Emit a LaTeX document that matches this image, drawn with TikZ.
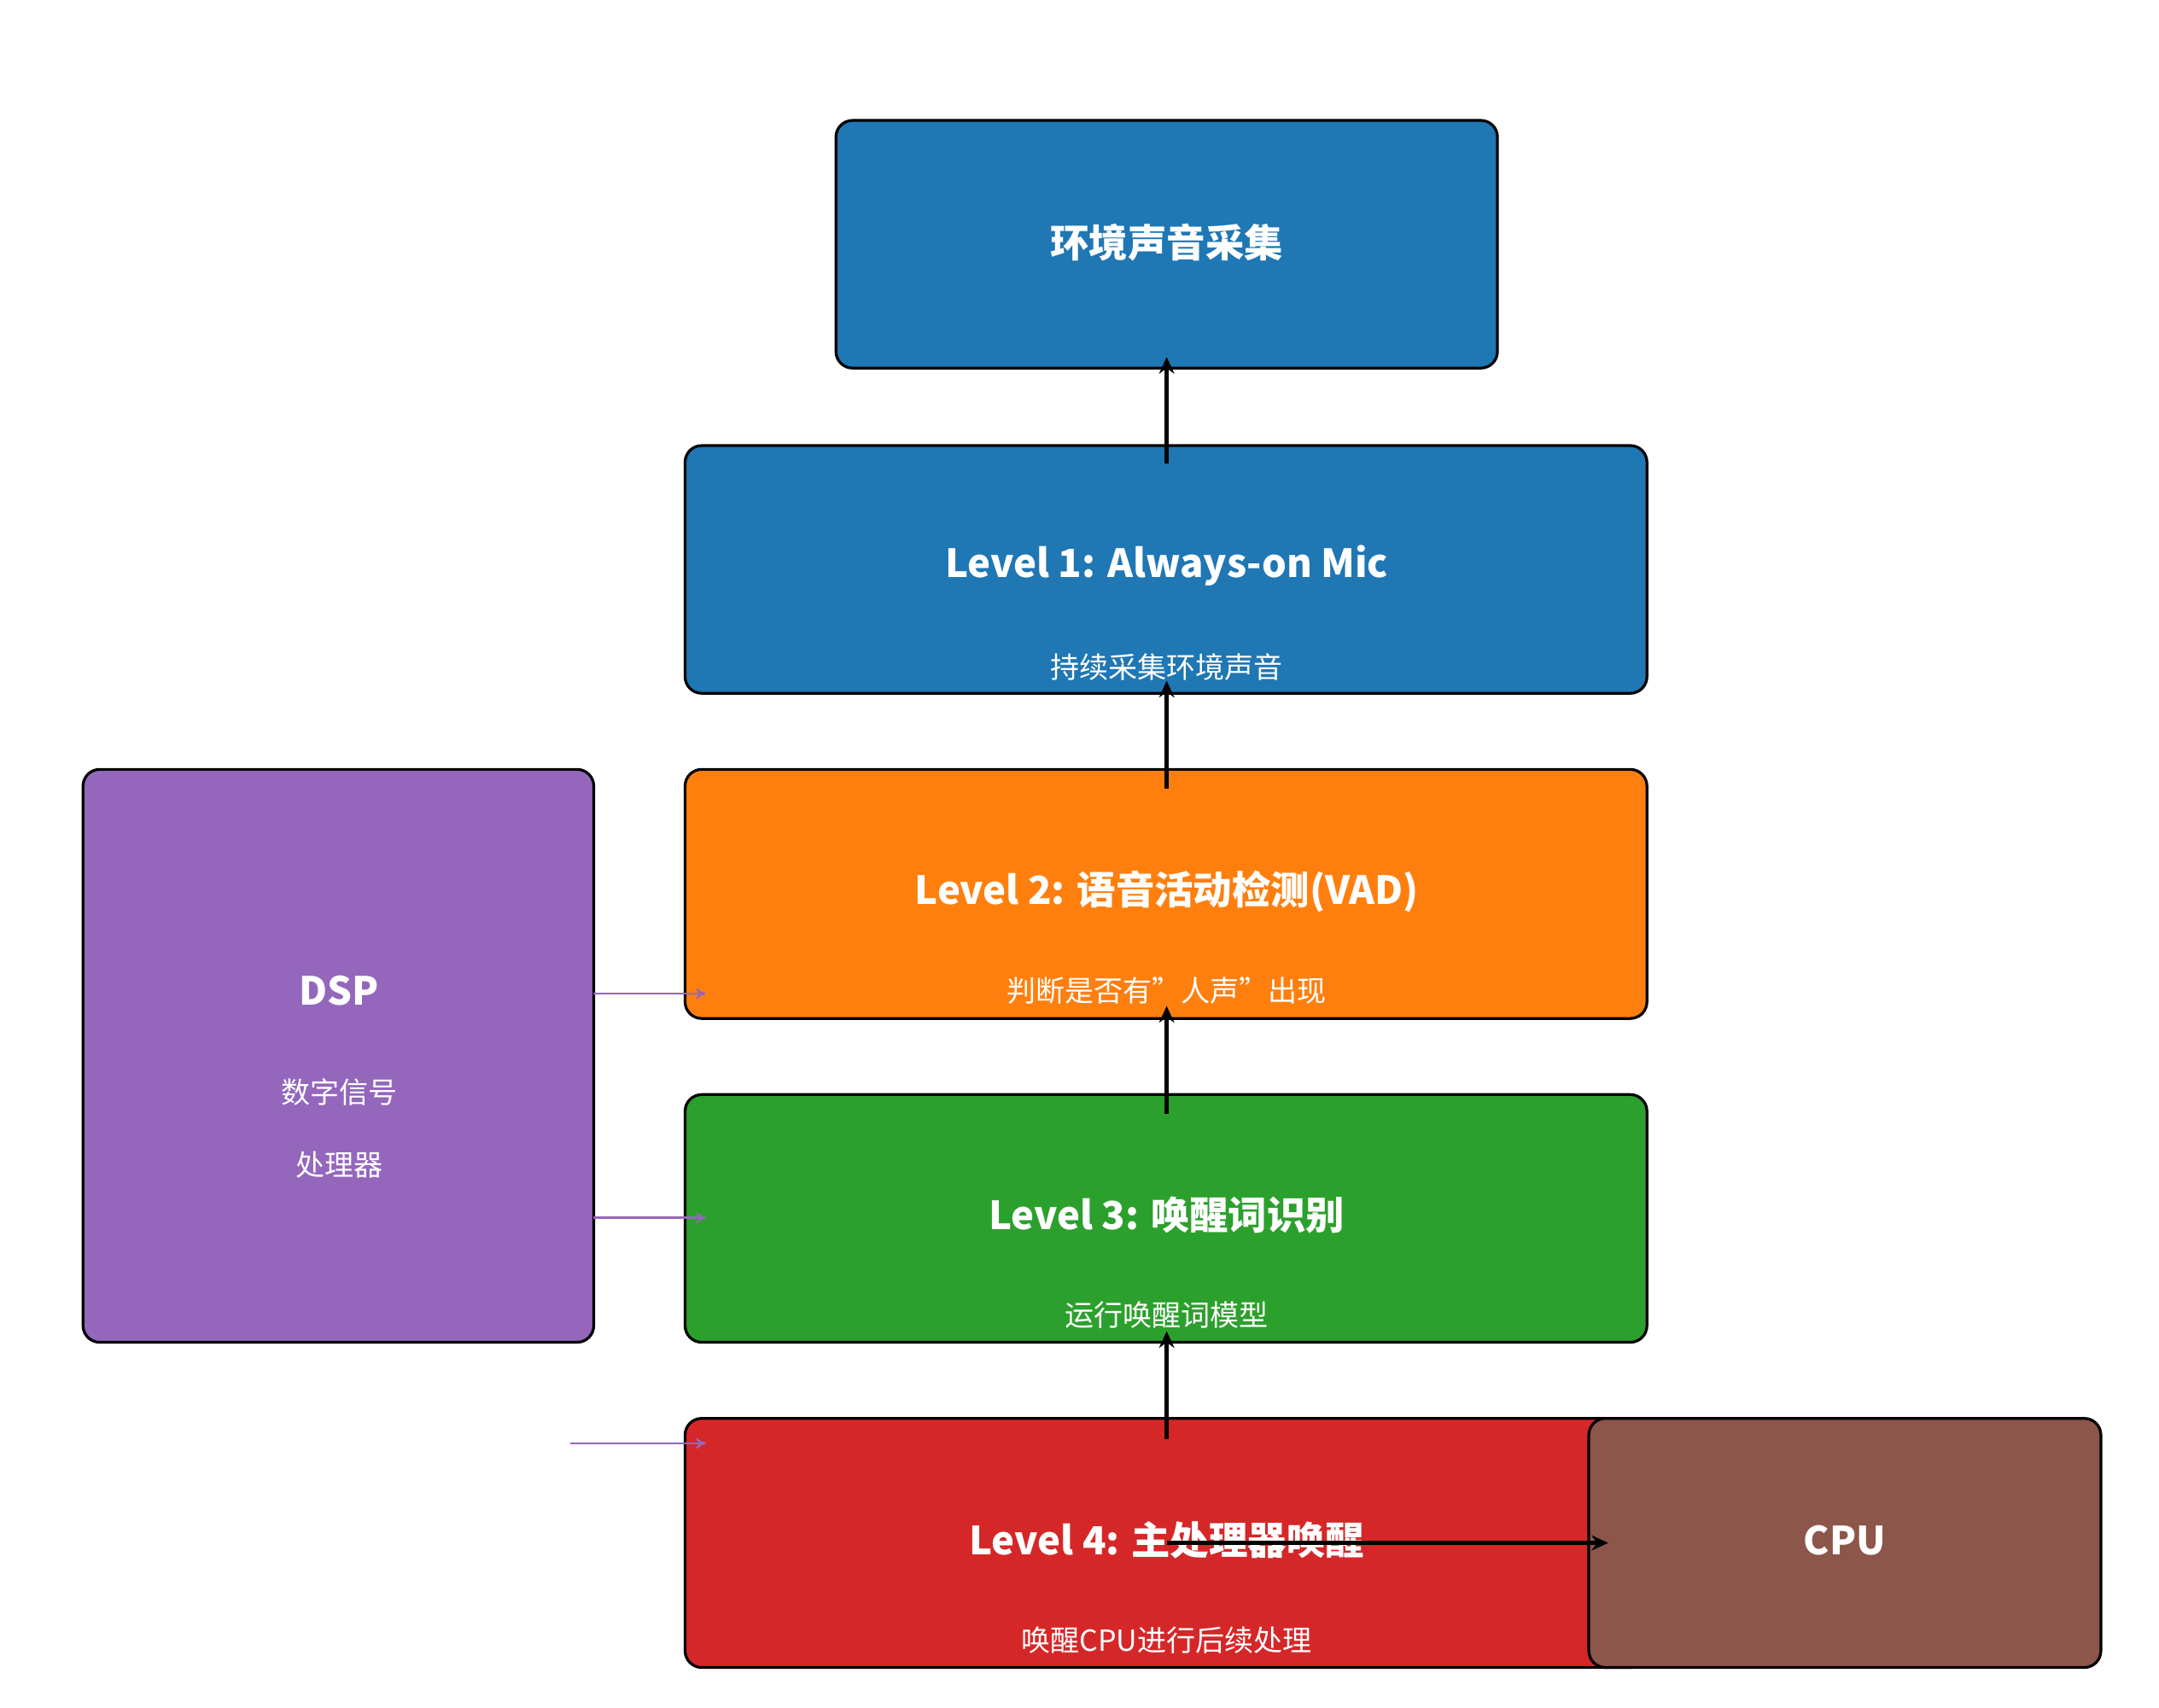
\documentclass[tikz,border=0pt]{standalone}
\usepackage{fontspec}
\setmainfont{Noto Sans CJK SC}
\usetikzlibrary{arrows.meta}
\begin{document}
\begin{tikzpicture}[x=1pt,y=-1pt,
 box/.style={draw=black,line width=2pt,rounded corners=12pt,inner sep=0pt},
 ttl/.style={text=white,font=\fontsize{28}{34}\selectfont\bfseries},
 sub/.style={text=white,font=\fontsize{21}{26}\selectfont},
 conn/.style={line width=3.5pt,-{Stealth[length=12pt,width=11pt]}},
 pconn/.style={draw=violet!60!blue!70,color={rgb,255:red,148;green,103;blue,189},line width=1.5pt,-{To[length=7pt,width=8pt]}}]
\definecolor{cb}{HTML}{1F77B4}\definecolor{co}{HTML}{FF7F0E}\definecolor{cg}{HTML}{2CA02C}
\definecolor{cr}{HTML}{D62728}\definecolor{cbr}{HTML}{8C564B}\definecolor{cp}{HTML}{9467BD}
\useasboundingbox (0,0) rectangle (1560,1234);
\draw[box,fill=cb] (604,87) rectangle (1082,266);
\node[ttl] (t0) at (843,175) {环境声音采集};
\draw[box,fill=cb] (495,322) rectangle (1190,501);
\node[ttl] (t1) at (843,409) {Level 1: Always-on Mic};
\node[sub] (s1) at (843,482) {持续采集环境声音};
\draw[box,fill=co] (495,556) rectangle (1190,736);
\node[ttl] (t2) at (843,644) {Level 2: 语音活动检测(VAD)};
\node[sub] (s2) at (843,716) {判断是否有"人声"出现};
\draw[box,fill=cg] (495,791) rectangle (1190,970);
\node[ttl] (t3) at (843,878) {Level 3: 唤醒词识别};
\node[sub] (s3) at (843,950) {运行唤醒词模型};
\draw[box,fill=cr] (495,1025) rectangle (1190,1205);
\node[ttl] (t4) at (843,1113) {Level 4: 主处理器唤醒};
\node[sub] (s4) at (843,1185) {唤醒CPU进行后续处理};
\draw[box,fill=cbr] (1148,1025) rectangle (1518,1205);
\node[ttl] (cpu) at (1333,1113) {CPU};
\draw[box,fill=cp] (60,556) rectangle (429,970);
\node[ttl] (dsp) at (245,716) {DSP};
\node[sub] (d1) at (245,789) {数字信号};
\node[sub] (d2) at (245,842) {处理器};
\coordinate (a1s) at (843,335); \coordinate (a1e) at (843,258);
\coordinate (a2s) at (843,570); \coordinate (a2e) at (843,492);
\coordinate (a3s) at (843,805); \coordinate (a3e) at (843,727);
\coordinate (a4s) at (843,1040); \coordinate (a4e) at (843,962);
\coordinate (hs) at (843,1115); \coordinate (he) at (1162,1115);
\draw[conn] (a1s)--(a1e); \draw[conn] (a2s)--(a2e);
\draw[conn] (a3s)--(a3e); \draw[conn] (a4s)--(a4e);
\draw[conn] (hs)--(he);
\coordinate (p1s) at (429,718); \coordinate (p1e) at (510,718);
\coordinate (p2s) at (429,880); \coordinate (p2e) at (510,880);
\coordinate (p3s) at (412,1043); \coordinate (p3e) at (510,1043);
\draw[pconn] (p1s)--(p1e); \draw[pconn] (p2s)--(p2e); \draw[pconn] (p3s)--(p3e);
\end{tikzpicture}
\end{document}
